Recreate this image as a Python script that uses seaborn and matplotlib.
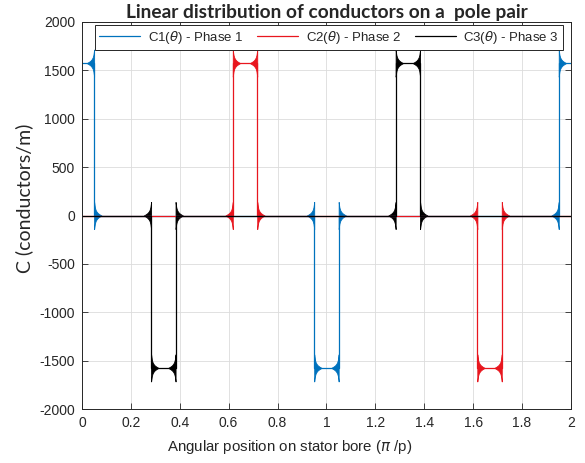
import numpy as np
import pandas as pd
import matplotlib
matplotlib.use("Agg")
import matplotlib.pyplot as plt
import seaborn as sns

# pulse data (x in units of pi/p)
phase_labels = [r"C1($\theta$) - Phase 1", r"C2($\theta$) - Phase 2", r"C3($\theta$) - Phase 3"]
phase_colors = ["#0072BD", "#E8161E", "#000000"]
pulse_centres = [[0.0, 1.0, 2.0], [0.667, 1.667], [0.333, 1.333]]
pulse_signs = [[1, -1, 1], [1, -1], [-1, 1]]
amplitude = 1575
half_width = 0.05
x_domain = [0, 2]

# Gibbs ringing envelope next to each edge (distance from edge, half height)
ring_dx = [0.0, 0.003, 0.006, 0.010, 0.015, 0.022, 0.030]
ring_env = [140, 85, 58, 40, 25, 12, 0]

xticks = [0, 0.2, 0.4, 0.6, 0.8, 1, 1.2, 1.4, 1.6, 1.8, 2]
xtick_labels = ["0", "0.2", "0.4", "0.6", "0.8", "1", "1.2", "1.4", "1.6", "1.8", "2"]
yticks = [-2000, -1500, -1000, -500, 0, 500, 1000, 1500, 2000]

sns.set_style("white")
plt.rcParams["font.family"] = ["Liberation Sans", "DejaVu Sans"]
plt.rcParams["mathtext.fontset"] = "dejavusans"
plt.rcParams["axes.unicode_minus"] = False

fig = plt.figure(figsize=(5.85, 4.63), dpi=100)
ax = fig.add_axes([0.140, 0.1166, 0.836, 0.8359])

for label, color, centres, signs in zip(phase_labels, phase_colors, pulse_centres, pulse_signs):
    xs, ys = [x_domain[0]], [0]
    for c, s in zip(centres, signs):
        a, b = c - half_width, c + half_width
        xs += [a, a, b, b]
        ys += [0, s * amplitude, s * amplitude, 0]
    xs.append(x_domain[1])
    ys.append(0)
    df = pd.DataFrame({"x": xs, "y": ys})
    sns.lineplot(data=df, x="x", y="y", sort=False, estimator=None, color=color,
                 lw=0.9, label=label, ax=ax)
    dx = np.array(ring_dx)
    env = np.array(ring_env)
    for c, s in zip(centres, signs):
        level = s * amplitude
        for edge, inward in [(c - half_width, 1), (c + half_width, -1)]:
            # high side (inside pulse) and zero side (outside pulse)
            for lev, d in [(level, inward), (0, -inward)]:
                xr = edge + d * dx
                ax.fill_between(xr, lev - env, lev + env, color=color, lw=0.6)

ax.set_xlim(*x_domain)
ax.set_ylim(-2000, 2000)
ax.set_xticks(xticks)
ax.set_xticklabels(xtick_labels)
ax.set_yticks(yticks)
ax.tick_params(direction="in", length=4, width=0.6, labelsize=10, colors="#262626",
               top=True, right=True, bottom=True, left=True, pad=5)
ax.grid(True, color="#dcdcdc", lw=0.6)
ax.set_axisbelow(True)
for sp in ax.spines.values():
    sp.set_color("#262626")
    sp.set_linewidth(0.7)

ax.set_xlabel(r"Angular position on stator bore ($\pi$ /p)", fontsize=10.8, color="#262626",
              va="center")
ax.xaxis.set_label_coords(0.425, -0.098)
ax.set_ylabel("C (conductors/m)", fontsize=14, family="Lato", color="#262626", va="center")
ax.yaxis.set_label_coords(-0.118, 0.545)
ax.set_title("Linear distribution of conductors on a  pole pair", fontsize=13.8,
             family="Lato", fontweight="bold", pad=3)

leg = ax.legend(loc="upper left", bbox_to_anchor=(0.027, 0.992, 0.957, 0.0),
                mode="expand", ncol=3, borderaxespad=0, fancybox=False,
                framealpha=1, edgecolor="#262626", fontsize=9.5, handlelength=3.1,
                borderpad=0.3, handletextpad=0.6)
leg.get_frame().set_linewidth(0.7)

fig.savefig("out.png", dpi=100)
